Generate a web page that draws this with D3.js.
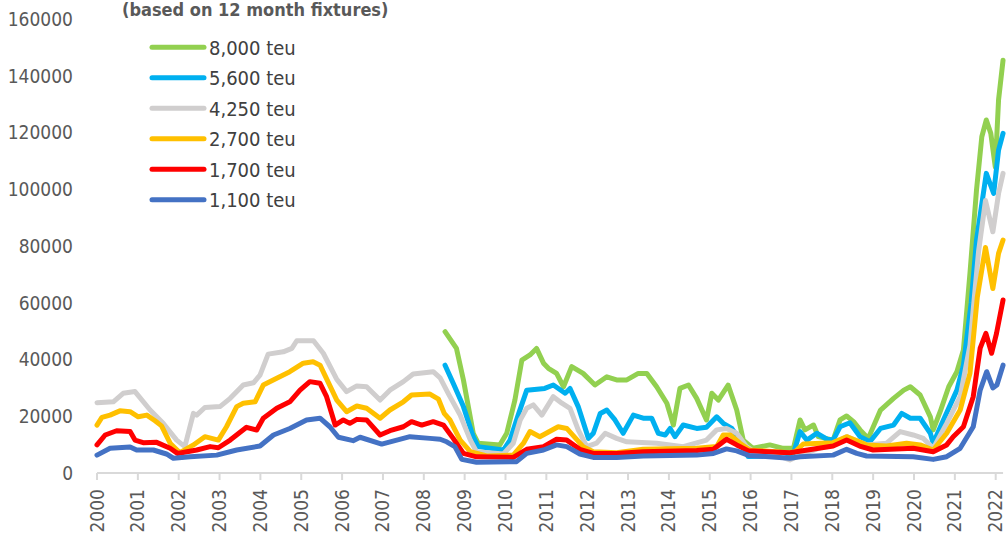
<!DOCTYPE html>
<html><head><meta charset="utf-8">
<script src="https://cdn.jsdelivr.net/npm/d3@7"></script>
<style>
html,body{margin:0;padding:0;background:#fff;}
svg{display:block;}
text{font-family:"DejaVu Sans Condensed","DejaVu Sans",sans-serif;font-stretch:condensed;}
</style></head>
<body>
<svg id="chart" width="1006" height="537"></svg>
<script>
const yearTicks = d3.range(2000, 2023);
const yTicks = [0,20000,40000,60000,80000,100000,120000,140000,160000];
const seriesNames = ["8,000 teu","5,600 teu","4,250 teu","2,700 teu","1,700 teu","1,100 teu"];
const seriesColors = ["#92D050","#00B0F0","#D0CECE","#FFC000","#FF0000","#4472C4"];
const subtitle = "(based on 12 month fixtures)";

const s8000 = [[2008.52,49800],[2008.80,43900],[2008.97,32800],[2009.21,14000],[2009.33,10500],[2009.86,9900],[2010.03,14000],[2010.23,25700],[2010.40,39800],[2010.60,41600],[2010.76,43900],[2010.93,38700],[2011.05,36900],[2011.25,35100],[2011.42,30400],[2011.62,37500],[2011.90,35100],[2012.19,31000],[2012.48,33900],[2012.72,32800],[2012.97,32800],[2013.25,35100],[2013.46,35100],[2013.70,30400],[2013.95,24600],[2014.11,16900],[2014.27,29800],[2014.48,31000],[2014.68,26300],[2014.92,18700],[2015.05,28100],[2015.21,25700],[2015.45,31000],[2015.66,22200],[2015.82,11600],[2016.06,8700],[2016.47,9900],[2016.80,8700],[2017.05,8700],[2017.21,18700],[2017.33,15200],[2017.54,16900],[2017.66,12800],[2018.02,11600],[2018.19,18700],[2018.35,20100],[2018.52,18100],[2018.68,15200],[2018.88,12200],[2019.18,22200],[2019.50,26300],[2019.75,29200],[2019.91,30400],[2020.15,27500],[2020.40,19800],[2020.47,15200],[2020.64,21600],[2020.85,30400],[2021.05,35700],[2021.21,43400],[2021.37,70400],[2021.53,99700],[2021.66,118500],[2021.77,124400],[2021.88,119700],[2021.99,107900],[2022.07,131500],[2022.18,145500]];
const s5600 = [[2008.52,38000],[2008.72,31600],[2008.97,23400],[2009.21,12800],[2009.33,9300],[2009.95,8100],[2010.11,11600],[2010.31,20400],[2010.52,29200],[2010.96,29800],[2011.17,31000],[2011.46,28100],[2011.58,29800],[2011.78,23400],[2012.03,12200],[2012.15,14000],[2012.32,21000],[2012.48,22200],[2012.68,18700],[2012.88,14000],[2013.13,20400],[2013.37,19300],[2013.58,19300],[2013.74,14000],[2013.91,13400],[2014.03,15700],[2014.15,12800],[2014.35,16900],[2014.68,15700],[2014.92,16100],[2015.17,19800],[2015.33,17500],[2015.54,15700],[2015.74,11600],[2015.94,5800],[2016.63,6000],[2017.05,6900],[2017.21,14600],[2017.38,11600],[2017.62,14000],[2017.87,11900],[2018.02,11600],[2018.19,16300],[2018.43,17700],[2018.68,12800],[2018.92,11000],[2019.18,15700],[2019.50,16900],[2019.70,21000],[2019.91,19300],[2020.15,19300],[2020.40,14000],[2020.47,10500],[2020.72,18700],[2021.05,29200],[2021.21,38000],[2021.40,60000],[2021.53,82100],[2021.77,105600],[2021.95,98500],[2022.07,113800],[2022.18,119700]];
const s4250 = [[2000.0,24800],[2000.40,25100],[2000.64,28100],[2000.93,28700],[2001.30,22200],[2001.62,17500],[2001.95,11600],[2002.15,9300],[2002.36,21000],[2002.44,20400],[2002.64,23100],[2003.01,23400],[2003.26,26300],[2003.58,31000],[2003.83,31800],[2003.99,34500],[2004.19,41900],[2004.56,42700],[2004.77,43900],[2004.89,46600],[2005.30,46600],[2005.54,42200],[2005.87,33000],[2006.11,28700],[2006.36,30700],[2006.60,30400],[2006.93,25700],[2007.17,29200],[2007.50,32200],[2007.74,34900],[2008.23,35700],[2008.40,33500],[2008.60,28000],[2008.89,20400],[2009.14,11600],[2009.29,7500],[2009.95,6700],[2010.19,10500],[2010.36,18700],[2010.52,22800],[2010.68,24000],[2010.89,20400],[2011.17,26900],[2011.38,24600],[2011.58,22800],[2011.78,15200],[2011.99,9300],[2012.23,10500],[2012.44,14000],[2012.72,12200],[2012.97,11000],[2013.70,10500],[2014.35,9300],[2014.92,11600],[2015.17,15200],[2015.41,15700],[2015.66,14000],[2015.90,9300],[2016.05,7800],[2016.63,6300],[2016.96,4600],[2017.21,6300],[2018.02,10500],[2018.35,12800],[2018.84,9900],[2019.33,10500],[2019.66,14600],[2019.98,13400],[2020.23,12200],[2020.47,8700],[2020.80,17500],[2021.13,26900],[2021.37,45000],[2021.58,78000],[2021.75,96000],[2021.93,85000],[2022.07,98500],[2022.18,105600]];
const s2700 = [[2000.0,16900],[2000.12,19600],[2000.32,20400],[2000.56,21900],[2000.81,21600],[2001.01,19800],[2001.22,20400],[2001.42,18400],[2001.58,16600],[2001.79,10500],[2002.03,7150],[2002.36,9900],[2002.64,12800],[2002.97,11600],[2003.17,16300],[2003.42,23400],[2003.58,24600],[2003.87,25100],[2004.07,31000],[2004.40,33400],[2004.72,35700],[2005.05,38700],[2005.29,39200],[2005.46,38000],[2005.87,25700],[2006.11,21600],[2006.36,23600],[2006.60,22800],[2006.93,19300],[2007.17,22200],[2007.50,25100],[2007.70,27500],[2008.15,27800],[2008.36,26000],[2008.50,21000],[2008.64,18700],[2008.89,11600],[2009.14,7500],[2009.54,6000],[2010.19,6300],[2010.44,10500],[2010.60,14600],[2010.84,12800],[2011.29,16300],[2011.50,15700],[2011.90,9300],[2012.15,7500],[2012.72,7150],[2013.37,8350],[2014.68,8700],[2015.17,9300],[2015.33,13400],[2015.50,13400],[2015.74,10500],[2015.98,8100],[2016.96,7150],[2017.10,7600],[2017.29,10200],[2018.02,10700],[2018.35,12800],[2018.84,9900],[2019.33,9500],[2019.82,10500],[2020.15,9900],[2020.47,8100],[2020.80,14000],[2021.13,22200],[2021.37,35100],[2021.55,62000],[2021.75,79500],[2021.93,65000],[2022.07,77400],[2022.18,82100]];
const s1700 = [[2000.0,9900],[2000.2,13400],[2000.48,14900],[2000.81,14600],[2000.93,11600],[2001.13,10700],[2001.46,10800],[2001.79,8700],[2001.97,6900],[2002.44,8100],[2002.77,9300],[2002.97,8900],[2003.26,11600],[2003.66,16100],[2003.91,15150],[2004.07,19300],[2004.40,22800],[2004.72,25100],[2004.97,29200],[2005.21,32200],[2005.46,31600],[2005.62,26900],[2005.83,16900],[2006.03,18700],[2006.19,17500],[2006.36,18900],[2006.60,18700],[2006.93,13400],[2007.17,14900],[2007.50,16300],[2007.70,18100],[2007.95,16900],[2008.23,18100],[2008.48,16900],[2008.72,12200],[2008.97,6900],[2009.29,5700],[2010.19,5500],[2010.52,8350],[2010.93,9300],[2011.25,11900],[2011.50,11600],[2011.82,8350],[2012.15,6900],[2012.72,6900],[2013.37,7500],[2014.68,7900],[2015.09,8350],[2015.41,11900],[2015.66,9900],[2015.95,7800],[2016.96,7150],[2018.02,9500],[2018.35,11600],[2018.67,9500],[2019.0,8100],[2019.98,8700],[2020.47,7500],[2020.80,9900],[2020.96,12800],[2021.21,16300],[2021.45,26900],[2021.62,44000],[2021.76,49200],[2021.90,42200],[2022.02,49200],[2022.18,61000]];
const s1100 = [[2000.0,6300],[2000.32,8700],[2000.81,9200],[2000.97,8100],[2001.38,8100],[2001.7,6700],[2001.87,5200],[2002.28,5750],[2002.93,6300],[2003.42,8100],[2003.99,9500],[2004.32,13400],[2004.72,15700],[2005.13,18700],[2005.46,19300],[2005.70,16300],[2005.91,12600],[2006.27,11400],[2006.44,12600],[2006.97,10200],[2007.66,12800],[2008.15,12200],[2008.40,11900],[2008.56,11000],[2008.76,9300],[2008.93,4800],[2009.29,3800],[2010.27,4000],[2010.52,6900],[2010.93,8100],[2011.25,9900],[2011.50,9300],[2011.82,6700],[2012.15,5500],[2012.72,5500],[2013.37,6000],[2014.68,6300],[2015.09,6900],[2015.41,8500],[2015.66,7800],[2015.95,6200],[2016.96,5200],[2017.21,5750],[2018.02,6300],[2018.35,8350],[2018.60,6900],[2018.84,6000],[2019.98,5750],[2020.47,4800],[2020.80,5750],[2021.13,8700],[2021.45,16300],[2021.62,29200],[2021.78,35700],[2021.93,30000],[2022.03,31000],[2022.18,38000]];

const seriesData = [s8000, s5600, s4250, s2700, s1700, s1100];

const svg = d3.select("#chart");
const x = d3.scaleLinear().domain([2000, 2022]).range([97, 995.7]);
const y = d3.scaleLinear().domain([0, 160000]).range([473, 19]);

// x axis
const xEnd = x(2022.18);
svg.append("line").attr("x1", x(2000)).attr("x2", xEnd).attr("y1", y(0)).attr("y2", y(0))
  .attr("stroke", "#D9D9D9").attr("stroke-width", 2);
const xg = svg.append("g");
xg.selectAll("line.tick").data(yearTicks).join("line")
  .attr("x1", d => x(d)).attr("x2", d => x(d))
  .attr("y1", y(0)).attr("y2", y(0) + 7)
  .attr("stroke", "#D9D9D9").attr("stroke-width", 2);
xg.selectAll("text").data(yearTicks).join("text")
  .attr("transform", d => `translate(${x(d) + 6.5},${y(0) + 16}) rotate(-90)`)
  .attr("text-anchor", "end")
  .attr("font-size", 19).attr("fill", "#595959")
  .text(d => d);

// y labels
svg.append("g").selectAll("text").data(yTicks).join("text")
  .attr("x", 73).attr("y", d => y(d))
  .attr("dy", "0.36em")
  .attr("text-anchor", "end")
  .attr("font-size", 19).attr("fill", "#595959")
  .text(d => d);

// lines
const line = d3.line().x(d => x(d[0])).y(d => y(d[1])).curve(d3.curveLinear);
svg.append("g").selectAll("path").data(seriesData).join("path")
  .attr("d", line).attr("fill", "none")
  .attr("stroke", (d, i) => seriesColors[i])
  .attr("stroke-width", 5).attr("stroke-linejoin", "round").attr("stroke-linecap", "round");

// subtitle
svg.append("text").attr("x", 122).attr("y", 16)
  .attr("font-size", 18).attr("font-weight", "bold").attr("fill", "#595959")
  .text(subtitle);

// legend
const lg = svg.append("g");
const rows = lg.selectAll("g").data(seriesNames).join("g")
  .attr("transform", (d, i) => `translate(0,${47.3 + i * 30.5})`);
rows.append("line").attr("x1", 152).attr("x2", 204).attr("y1", 0).attr("y2", 0)
  .attr("stroke", (d, i) => seriesColors[i]).attr("stroke-width", 5).attr("stroke-linecap", "round");
rows.append("text").attr("x", 209).attr("y", 0).attr("dy", "0.36em")
  .attr("font-size", 20).attr("fill", "#404040").text(d => d);
</script>
</body></html>
